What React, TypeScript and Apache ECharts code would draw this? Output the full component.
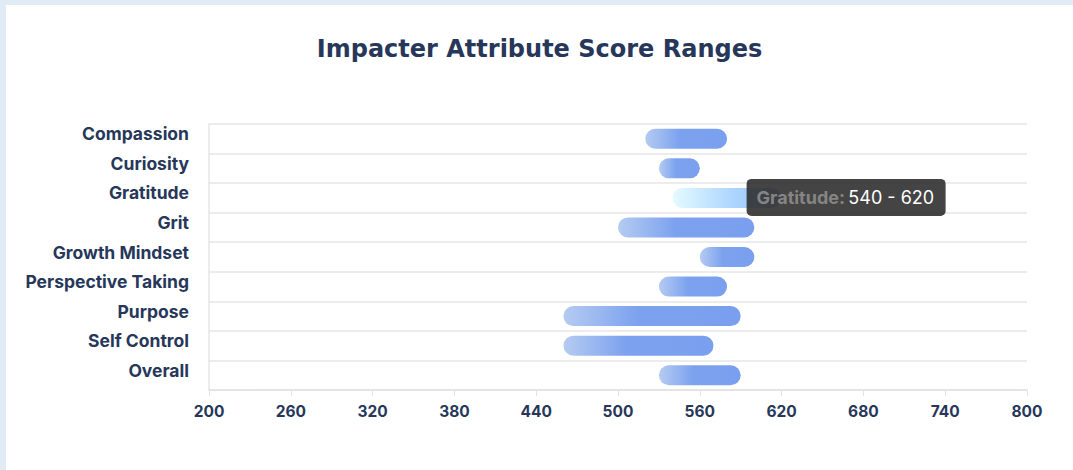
import React, { useEffect, useRef } from "react";
import * as echarts from "echarts";

const categories = [
  "Compassion",
  "Curiosity",
  "Gratitude",
  "Grit",
  "Growth Mindset",
  "Perspective Taking",
  "Purpose",
  "Self Control",
  "Overall",
];
const minScores = [520, 530, 540, 500, 560, 530, 460, 460, 530];
const maxScores = [580, 560, 620, 600, 600, 580, 590, 570, 590];
const highlightedIndex = 2;
const axisMin = 200;
const axisMax = 800;
const axisInterval = 60;

const NAVY = "#26375a";
const FONT = "Inter, 'Noto Sans', sans-serif";

export default function App() {
  const ref = useRef<HTMLDivElement>(null);

  useEffect(() => {
    if (!ref.current) return;
    const chart = echarts.init(ref.current, undefined, { renderer: "svg" });

    const normalGradient = new echarts.graphic.LinearGradient(0, 0, 1, 0, [
      { offset: 0, color: "#b5cbf1" },
      { offset: 0.42, color: "#7ca2ef" },
      { offset: 1, color: "#7a9fee" },
    ]);
    const hoverGradient = new echarts.graphic.LinearGradient(0, 0, 1, 0, [
      { offset: 0, color: "#e4fbff" },
      { offset: 0.6, color: "#a9d2ff" },
      { offset: 1, color: "#a3ccff" },
    ]);

    const rangeData = categories.map((c, i) => {
      const v = maxScores[i] - minScores[i];
      if (i === highlightedIndex) {
        return { value: v, itemStyle: { color: hoverGradient } };
      }
      return v;
    });

    chart.setOption({
      animation: false,
      backgroundColor: "#ffffff",
      title: {
        text: "Impacter Attribute Score Ranges",
        left: "center",
        top: 27,
        textStyle: {
          fontFamily: "'DejaVu Sans', sans-serif",
          fontWeight: 700,
          fontSize: 24,
          color: NAVY,
        },
      },
      grid: { left: 203, right: 46, top: 119, bottom: 80 },
      xAxis: {
        type: "value",
        min: axisMin,
        max: axisMax,
        interval: axisInterval,
        axisLine: { show: true, lineStyle: { color: "#e2e2e2", width: 1.5 } },
        axisTick: { show: true, length: 6, lineStyle: { color: "#e2e2e2" } },
        splitLine: { show: false },
        axisLabel: {
          color: NAVY,
          fontFamily: FONT,
          fontWeight: 700,
          fontSize: 15.5,
          margin: 13,
        },
      },
      yAxis: {
        type: "category",
        data: categories,
        inverse: true,
        axisLine: { show: true, lineStyle: { color: "#e6e6e6", width: 1.5 } },
        axisTick: { show: false },
        splitLine: { show: true, lineStyle: { color: "#e6e6e6", width: 1.5 } },
        axisLabel: {
          color: NAVY,
          fontFamily: FONT,
          fontWeight: 700,
          fontSize: 17.5,
          margin: 20,
          verticalAlign: "bottom",
          lineHeight: 10,
        },
      },
      series: [
        {
          type: "bar",
          stack: "range",
          data: minScores,
          itemStyle: { color: "transparent" },
          barWidth: 20,
          silent: true,
        },
        {
          type: "bar",
          stack: "range",
          data: rangeData,
          barWidth: 20,
          itemStyle: { color: normalGradient, borderRadius: 10 },
        },
      ],
    });

    const p = chart.convertToPixel({ xAxisIndex: 0, yAxisIndex: 0 }, [
      maxScores[highlightedIndex],
      categories[highlightedIndex],
    ]) as number[];

    const boxW = 199;
    const boxH = 37;
    const left = p[0] - 35;
    const top = p[1] - 19;

    chart.setOption({
      graphic: [
        {
          type: "group",
          x: left,
          y: top,
          z: 100,
          zlevel: 1,
          children: [
            {
              type: "rect",
              z: 100,
              zlevel: 1,
              shape: { x: 0, y: 0, width: boxW, height: boxH, r: 5 },
              style: { fill: "rgba(48,48,48,0.9)" },
            },
            {
              type: "text",
              z: 101,
              zlevel: 1,
              x: 10,
              y: boxH / 2,
              style: {
                text:
                  "{a|" +
                  categories[highlightedIndex] +
                  ":} {b|" +
                  minScores[highlightedIndex] +
                  " - " +
                  maxScores[highlightedIndex] +
                  "}",
                verticalAlign: "middle",
                rich: {
                  a: {
                    fontFamily: FONT,
                    fontWeight: 700,
                    fontSize: 18,
                    fill: "#858585",
                  },
                  b: {
                    fontFamily: FONT,
                    fontWeight: 400,
                    fontSize: 18,
                    fill: "#ffffff",
                  },
                },
              },
            },
          ],
        },
      ],
    });

    return () => chart.dispose();
  }, []);

  return (
    <div
      style={{
        position: "fixed",
        left: 0,
        top: 0,
        width: 1073,
        height: 470,
        background: "#e0ecf5",
      }}
    >
      <div
        ref={ref}
        style={{
          position: "absolute",
          left: 6,
          top: 5,
          width: 1067,
          height: 465,
          background: "#ffffff",
        }}
      />
    </div>
  );
}
